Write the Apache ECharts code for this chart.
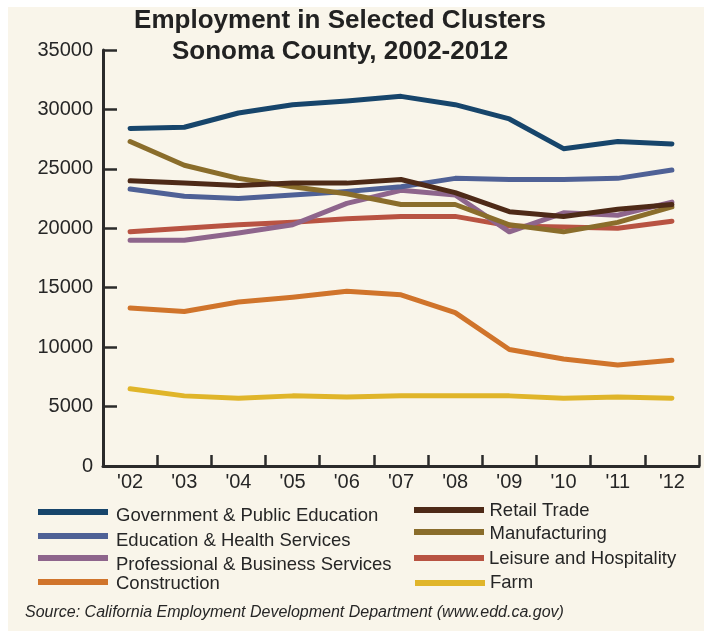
<!DOCTYPE html>
<html>
<head>
<meta charset="utf-8">
<title>Employment in Selected Clusters</title>
<script src="https://cdn.jsdelivr.net/npm/echarts@6/dist/echarts.min.js"></script>
<style>
  html, body { margin: 0; padding: 0; background: #ffffff; }
  #chart { width: 704px; height: 639px; }
</style>
</head>
<body>
<div id="chart"></div>
<script>
// Year labels along the category axis
const years = ["'02", "'03", "'04", "'05", "'06", "'07", "'08", "'09", "'10", "'11", "'12"];

// Value axis range
const yMin = 0;
const yMax = 35000;
const yStep = 5000;

// Employment by cluster, 2002-2012
const govPublicEducation   = [28400, 28500, 29700, 30400, 30700, 31100, 30400, 29200, 26700, 27300, 27100];
const educationHealth      = [23300, 22700, 22500, 22800, 23100, 23500, 24200, 24100, 24100, 24200, 24900];
const professionalBusiness = [19000, 19000, 19600, 20300, 22100, 23200, 22800, 19700, 21300, 21100, 22200];
const construction         = [13300, 13000, 13800, 14200, 14700, 14400, 12900, 9800, 9000, 8500, 8900];
const retailTrade          = [24000, 23800, 23600, 23800, 23800, 24100, 23000, 21400, 21000, 21600, 22000];
const manufacturing        = [27300, 25300, 24200, 23500, 22900, 22000, 22000, 20300, 19700, 20500, 21800];
const leisureHospitality   = [19700, 20000, 20300, 20500, 20800, 21000, 21000, 20200, 20100, 20000, 20600];
const farm                 = [6500, 5900, 5700, 5900, 5800, 5900, 5900, 5900, 5700, 5800, 5700];

const FONT = "'Liberation Sans', Arial, Helvetica, sans-serif";
const INK = '#262626';
const AXIS = '#2b2b2b';

// Series definitions: name, values, colour, stacking order
const clusters = [
  { name: 'Farm',                              data: farm,                 color: '#e0b52a', z: 1 },
  { name: 'Construction',                      data: construction,         color: '#d0742b', z: 2 },
  { name: 'Leisure and Hospitality',           data: leisureHospitality,   color: '#b85342', z: 3 },
  { name: 'Professional & Business Services',  data: professionalBusiness, color: '#8e658c', z: 4 },
  { name: 'Education & Health Services',       data: educationHealth,      color: '#4f6196', z: 5 },
  { name: 'Manufacturing',                     data: manufacturing,        color: '#8a6d2b', z: 6 },
  { name: 'Retail Trade',                      data: retailTrade,          color: '#4e2a17', z: 7 },
  { name: 'Government & Public Education',     data: govPublicEducation,   color: '#17456b', z: 8 }
];

// One legend block per entry so each key line and its label sit where they belong.
// The icon is a 70x6 swatch inside a slightly larger invisible box, which nudges
// the label right (extraGap) and down (textShift) relative to the swatch.
const LEGEND_LH = 20;
const SWATCH_W = 70;
const SWATCH_H = 6;
function legendEntry(name, left, swatchCenterY, textShift, extraGap) {
  const w = SWATCH_W + extraGap;
  const h = SWATCH_H + 2 * textShift;
  const icon = 'path://M0,0L' + SWATCH_W + ',0L' + SWATCH_W + ',' + SWATCH_H + 'L0,' + SWATCH_H + 'Z' +
    'M' + w + ',' + h + 'L' + w + ',' + (h - 0.01).toFixed(2) + 'L' + (w - 0.01).toFixed(2) + ',' + h + 'Z';
  return {
    data: [name],
    left: left,
    top: swatchCenterY - SWATCH_H / 2 + Math.min(0, h / 2 - LEGEND_LH / 2),
    padding: 0,
    orient: 'horizontal',
    icon: icon,
    itemWidth: w,
    itemHeight: h,
    symbolKeepAspect: false,
    selectedMode: false,
    textStyle: {
      fontFamily: FONT,
      fontSize: 18.5,
      color: INK,
      lineHeight: LEGEND_LH
    }
  };
}

const legends = [
  legendEntry('Government & Public Education',    38, 512, 4.3, 3),
  legendEntry('Education & Health Services',      38, 536, 5, 3),
  legendEntry('Professional & Business Services', 38, 558, 7.3, 3),
  legendEntry('Construction',                     38, 582, 2.1, 3),
  legendEntry('Retail Trade',                     414, 510, 1.3, 0.5),
  legendEntry('Manufacturing',                    414, 532, 1.5, 0.5),
  legendEntry('Leisure and Hospitality',          414, 558, 1.3, 0),
  legendEntry('Farm',                             415, 583, 0.3, 0)
];

const chart = echarts.init(document.getElementById('chart'), null, { renderer: 'canvas' });

chart.setOption({
  backgroundColor: '#ffffff',
  animation: false,
  textStyle: { fontFamily: FONT },
  graphic: [
    {
      type: 'rect',
      z: -10,
      silent: true,
      shape: { x: 8, y: 7, width: 696, height: 624 },
      style: { fill: '#f9f5ea' }
    }
  ],
  title: [
    {
      text: 'Employment in Selected Clusters\nSonoma County, 2002-2012',
      left: 340,
      top: 5,
      textAlign: 'center',
      padding: 0,
      textStyle: {
        fontFamily: FONT,
        fontSize: 26,
        fontWeight: 'bold',
        lineHeight: 31.5,
        color: '#222222'
      }
    },
    {
      text: 'Source: California Employment Development Department (www.edd.ca.gov)',
      left: 25,
      top: 603,
      padding: 0,
      textStyle: {
        fontFamily: FONT,
        fontSize: 16,
        fontStyle: 'italic',
        fontWeight: 'normal',
        lineHeight: 20,
        color: INK
      }
    }
  ],
  legend: legends,
  grid: { left: 103, top: 50, width: 596, height: 416, containLabel: false },
  xAxis: {
    type: 'category',
    data: years,
    boundaryGap: true,
    axisLine: { show: true, lineStyle: { color: AXIS, width: 3 } },
    axisTick: { show: true, inside: true, length: 11, interval: 0, lineStyle: { color: AXIS, width: 2.5 } },
    axisLabel: { color: INK, fontSize: 20, fontFamily: FONT, margin: 6, interval: 0 },
    splitLine: { show: false }
  },
  yAxis: {
    type: 'value',
    min: yMin,
    max: yMax,
    interval: yStep,
    axisLine: { show: true, lineStyle: { color: AXIS, width: 3 } },
    axisTick: { show: true, inside: true, length: 14, lineStyle: { color: AXIS, width: 2.5 } },
    axisLabel: {
      color: INK,
      fontSize: 20,
      fontFamily: FONT,
      margin: 10,
      formatter: v => String(v)
    },
    splitLine: { show: false }
  },
  series: clusters.map(c => ({
    name: c.name,
    type: 'line',
    data: c.data,
    z: 2 + c.z,
    showSymbol: false,
    symbol: 'none',
    color: c.color,
    itemStyle: { color: c.color },
    lineStyle: { color: c.color, width: 5, cap: 'round', join: 'round' },
    emphasis: { disabled: true }
  }))
});
</script>
</body>
</html>
